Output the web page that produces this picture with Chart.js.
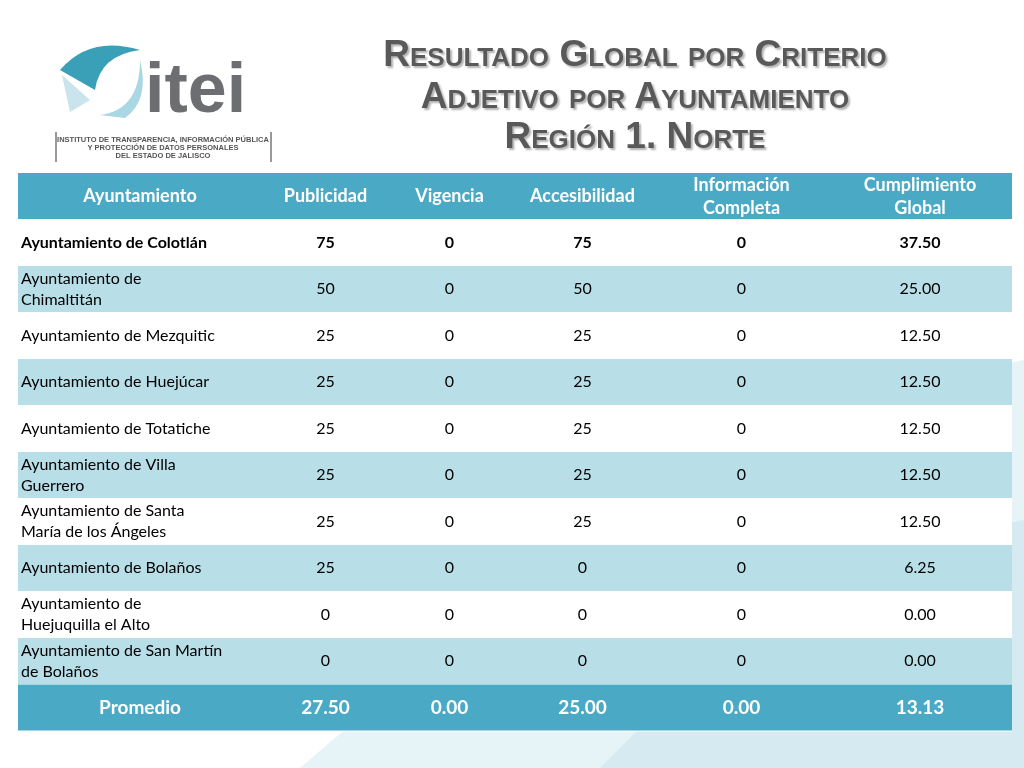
<!DOCTYPE html>
<html><head><meta charset="utf-8">
<script src="https://cdn.jsdelivr.net/npm/chart.js@4/dist/chart.umd.min.js"></script>
<style>
body{margin:0;width:1024px;height:768px;overflow:hidden;background:#fff;font-family:Lato,"Open Sans",sans-serif;position:relative}
#wrap{position:absolute;left:0;top:0;width:1024px;height:768px}
.t{position:absolute;left:330px;width:610px;text-align:center;font-family:"Liberation Sans",Arial,sans-serif;font-weight:bold;color:#595959;font-variant:small-caps;font-size:37px;line-height:40px;text-shadow:2px 2px 2px rgba(0,0,0,0.3)}
</style></head><body>
<div id="wrap"><canvas id="c" width="1024" height="768"></canvas></div>
<div class="t" style="top:34px">Resultado Global por Criterio</div>
<div class="t" style="top:76px">Adjetivo por Ayuntamiento</div>
<div class="t" style="top:116px">Región 1. Norte</div>
<script>
const headers = ["Ayuntamiento","Publicidad","Vigencia","Accesibilidad","Información\nCompleta","Cumplimiento\nGlobal"];
const municipios = ["Ayuntamiento de Colotlán","Ayuntamiento de\nChimaltitán","Ayuntamiento de Mezquitic","Ayuntamiento de Huejúcar","Ayuntamiento de Totatiche","Ayuntamiento de Villa\nGuerrero","Ayuntamiento de Santa\nMaría de los Ángeles","Ayuntamiento de Bolaños","Ayuntamiento de\nHuejuquilla el Alto","Ayuntamiento de San Martín\nde Bolaños"];
const publicidad = [75,50,25,25,25,25,25,25,0,0];
const vigencia = [0,0,0,0,0,0,0,0,0,0];
const accesibilidad = [75,50,25,25,25,25,25,0,0,0];
const informacion = [0,0,0,0,0,0,0,0,0,0];
const cumplimiento = ["37.50","25.00","12.50","12.50","12.50","12.50","12.50","6.25","0.00","0.00"];
const promedio = ["Promedio","27.50","0.00","25.00","0.00","13.13"];
const colEdges = [0,244,371,492,637,810,994];

const rows = [headers];
municipios.forEach((m,i)=>rows.push([m,String(publicidad[i]),String(vigencia[i]),String(accesibilidad[i]),String(informacion[i]),cumplimiento[i]]));
rows.push(promedio);

const tablePlugin = {
  id:'table',
  beforeDraw(chart){
    const ctx=chart.ctx;
    ctx.save();
    ctx.fillStyle='rgba(183,221,232,0.35)';
    ctx.beginPath();ctx.moveTo(300,768);ctx.quadraticCurveTo(700,420,1024,360);ctx.lineTo(1024,768);ctx.fill();
    ctx.beginPath();ctx.moveTo(600,768);ctx.quadraticCurveTo(800,560,1024,520);ctx.lineTo(1024,768);ctx.fill();
    ctx.fillStyle='#3aa0b8';
    ctx.beginPath();ctx.moveTo(60,70);ctx.quadraticCurveTo(90,35,140,50);ctx.quadraticCurveTo(100,55,95,90);ctx.closePath();ctx.fill();
    ctx.fillStyle='#a9d7e3';
    ctx.beginPath();ctx.moveTo(100,115);ctx.quadraticCurveTo(140,110,140,60);ctx.quadraticCurveTo(150,100,125,118);ctx.closePath();ctx.fill();
    ctx.fillStyle='#c9e4ec';
    ctx.beginPath();ctx.moveTo(62,75);ctx.lineTo(90,100);ctx.lineTo(70,112);ctx.closePath();ctx.fill();
    ctx.fillStyle='#6d6e71';ctx.font='bold 70px "Liberation Sans",Arial';ctx.textBaseline='alphabetic';ctx.textAlign='left';
    ctx.fillText('itei',145,112);
    ctx.fillStyle='#999';ctx.fillRect(55,132,2,30);ctx.fillRect(270,132,2,30);
    ctx.fillStyle='#555';ctx.font='bold 7.5px "Liberation Sans",Arial';ctx.textAlign='center';
    ctx.fillText('INSTITUTO DE TRANSPARENCIA, INFORMACIÓN PÚBLICA',163,142);
    ctx.fillText('Y PROTECCIÓN DE DATOS PERSONALES',163,150);
    ctx.fillText('DEL ESTADO DE JALISCO',163,158);
    ctx.restore();
  },
  afterDatasetsDraw(chart){
    const ctx=chart.ctx, xs=chart.scales.x, ys=chart.scales.y;
    ctx.save();
    rows.forEach((r,ri)=>{
      const y0=ys.getPixelForValue(ri), y1=ys.getPixelForValue(ri+1);
      const x0=xs.getPixelForValue(colEdges[0]), x1=xs.getPixelForValue(colEdges[6]);
      const isHead=ri===0, isProm=ri===rows.length-1;
      ctx.fillStyle = (isHead||isProm)?'#4aaac5':(ri%2===0?'#b8dee8':'#ffffff');
      ctx.fillRect(x0,y0,x1-x0,y1-y0);
      ctx.strokeStyle='#ffffff';ctx.lineWidth=1;
      ctx.beginPath();ctx.moveTo(x0,y1);ctx.lineTo(x1,y1);ctx.stroke();
      r.forEach((txt,ci)=>{
        const cx0=xs.getPixelForValue(colEdges[ci]), cx1=xs.getPixelForValue(colEdges[ci+1]);
        let font, color;
        if(isHead){font='bold 18px Lato';color='#fff';}
        else if(isProm){font='bold 19px Lato';color='#fff';}
        else if(ri===1){font='bold 16px Lato';color='#000';}
        else {font='16px Lato';color='#000';}
        ctx.font=font;ctx.fillStyle=color;ctx.textBaseline='middle';
        const left = ci===0 && !isHead && !isProm;
        ctx.textAlign= left?'left':'center';
        const tx = left? cx0+3 : (cx0+cx1)/2;
        const lines=txt.split('\n'); const lh= isHead?23:21;
        const ym=(y0+y1)/2;
        lines.forEach((l,li)=>ctx.fillText(l,tx,ym+(li-(lines.length-1)/2)*lh));
      });
    });
    ctx.restore();
  }
};

new Chart(document.getElementById('c'),{
  type:'scatter',
  data:{datasets:[{data:[]}]},
  options:{responsive:false,animation:false,
    layout:{padding:{left:18,right:12,top:173,bottom:37}},
    plugins:{legend:{display:false},tooltip:{enabled:false}},
    scales:{x:{type:'linear',min:0,max:994,display:false},
            y:{type:'linear',min:0,max:12,reverse:true,display:false}}},
  plugins:[tablePlugin]
});
</script></body></html>
